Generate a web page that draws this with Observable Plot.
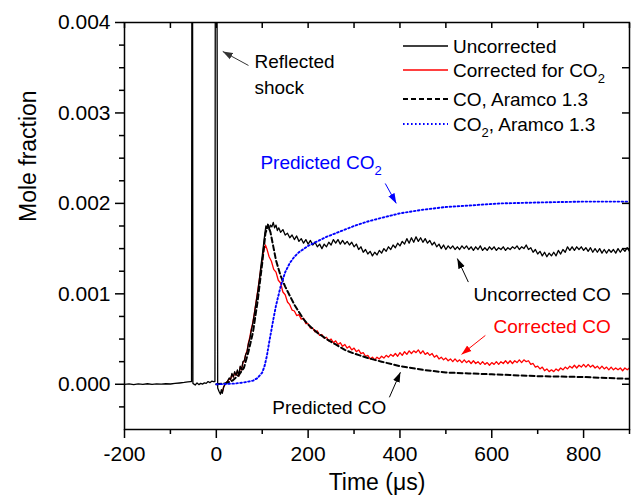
<!DOCTYPE html>
<html><head><meta charset="utf-8">
<script src="https://cdn.jsdelivr.net/npm/d3@7"></script>
<script src="https://cdn.jsdelivr.net/npm/@observablehq/plot@0.6"></script>
<style>
body{margin:0;background:#fff;}
#wrap{position:relative;width:634px;height:500px;}
</style></head><body><div id="wrap"></div>
<script>
// ---------- DATA (mole fraction values given in units of 1e-3) ----------
// Uncorrected CO signal (black), early part incl. two reflected-shock spikes
const uncorrEarlyT = [-200,-190,-180,-170,-160,-150,-140,-130,-120,-110,-100,-90,-80,-70,-62,-56,-54,-53,-52,-51,-46,-42,-38,-34,-30,-26,-22,-18,-14,-10,-6,-4,-3,-2,1,3,6,9,11,13,16,20,24,28,31,34,37,40,43,46,49,52,55,58,61,64,67,70,73,76,79,82,85,88,91,94,97,100,103,106,108,110,112,115,118,121,124,127,130,133,136];
const uncorrEarlyV = [0.000,0.005,-0.003,0.004,0.000,0.006,-0.002,0.004,0.001,0.006,0.003,0.009,0.014,0.020,0.026,0.030,0.030,6,6,0.010,-0.008,0.015,-0.004,0.010,0.002,0.016,0.010,0.030,0.018,0.034,0.028,0.032,0.03,6,6,-0.04,-0.08,-0.11,-0.06,-0.10,-0.03,0.01,0.03,0.07,0.05,0.12,0.08,0.14,0.10,0.16,0.09,0.20,0.16,0.25,0.26,0.33,0.36,0.45,0.50,0.59,0.66,0.75,0.85,0.95,1.05,1.17,1.30,1.42,1.55,1.68,1.75,1.72,1.77,1.71,1.76,1.74,1.79,1.73,1.76,1.70,1.73];
// Uncorrected CO, 140..900 us every 5 us
const uncorrTailV = [1.68,1.71,1.65,1.67,1.62,1.65,1.60,1.64,1.58,1.61,1.56,1.60,1.55,1.59,1.54,1.57,1.52,1.55,1.50,1.55,1.52,1.57,1.54,1.60,1.56,1.60,1.55,1.59,1.55,1.58,1.54,1.57,1.52,1.55,1.49,1.52,1.46,1.49,1.44,1.47,1.42,1.46,1.43,1.48,1.45,1.50,1.47,1.52,1.49,1.54,1.51,1.56,1.53,1.58,1.55,1.61,1.56,1.62,1.57,1.63,1.58,1.62,1.57,1.61,1.56,1.59,1.54,1.57,1.52,1.55,1.50,1.54,1.49,1.53,1.50,1.53,1.49,1.52,1.49,1.53,1.50,1.53,1.49,1.52,1.48,1.52,1.49,1.53,1.48,1.51,1.48,1.52,1.49,1.52,1.48,1.51,1.49,1.52,1.48,1.51,1.49,1.52,1.50,1.53,1.49,1.52,1.50,1.54,1.49,1.51,1.46,1.49,1.44,1.47,1.42,1.46,1.41,1.45,1.42,1.46,1.42,1.48,1.44,1.49,1.46,1.52,1.48,1.52,1.48,1.52,1.49,1.52,1.48,1.51,1.47,1.51,1.46,1.50,1.46,1.50,1.45,1.49,1.45,1.49,1.46,1.49,1.45,1.50,1.46,1.50,1.47,1.51,1.47];
// Corrected for CO2 (red), early part
const corrEarlyT = [10,13,16,20,24,28,31,34,37,40,43,46,49,52,55,58,61,64,67,70,73,76,79,82,85,88,91,94,97,100,103,107];
const corrEarlyV = [-0.09,-0.09,-0.03,0.01,0.03,0.06,0.05,0.11,0.08,0.13,0.10,0.15,0.09,0.19,0.16,0.24,0.26,0.33,0.37,0.46,0.52,0.61,0.67,0.76,0.86,0.96,1.06,1.17,1.28,1.38,1.47,1.54];
// Corrected, 110..900 us every 5 us
const corrTailV = [1.50,1.41,1.36,1.27,1.24,1.15,1.12,1.02,0.99,0.91,0.88,0.82,0.81,0.76,0.77,0.72,0.73,0.67,0.67,0.62,0.62,0.58,0.59,0.54,0.55,0.51,0.52,0.48,0.50,0.46,0.48,0.44,0.46,0.42,0.44,0.40,0.42,0.38,0.40,0.36,0.38,0.34,0.35,0.31,0.32,0.28,0.30,0.27,0.30,0.28,0.31,0.29,0.32,0.30,0.33,0.31,0.34,0.31,0.35,0.32,0.36,0.33,0.37,0.34,0.37,0.35,0.38,0.34,0.37,0.33,0.35,0.32,0.34,0.30,0.32,0.28,0.30,0.27,0.29,0.26,0.28,0.25,0.28,0.25,0.27,0.24,0.27,0.24,0.26,0.23,0.26,0.23,0.25,0.22,0.25,0.22,0.24,0.21,0.24,0.22,0.25,0.22,0.25,0.23,0.26,0.23,0.26,0.23,0.26,0.24,0.27,0.24,0.27,0.25,0.26,0.22,0.23,0.19,0.20,0.17,0.19,0.15,0.17,0.14,0.16,0.14,0.17,0.15,0.18,0.16,0.19,0.17,0.20,0.18,0.21,0.18,0.21,0.19,0.22,0.19,0.22,0.19,0.21,0.18,0.20,0.17,0.20,0.17,0.19,0.16,0.19,0.16,0.18,0.16,0.18,0.15,0.18,0.16,0.18];
// CO, Aramco 1.3 (black dashed)
const coModelT = [0,20,35,50,60,70,80,90,100,107,113,118,125,130,140,150,160,170,180,190,200,220,240,260,280,300,330,360,400,450,500,550,600,700,800,900];
const coModelV = [0,0.01,0.04,0.11,0.18,0.36,0.58,0.92,1.34,1.67,1.76,1.68,1.50,1.37,1.20,1.08,0.98,0.88,0.80,0.72,0.66,0.57,0.50,0.44,0.38,0.34,0.29,0.25,0.20,0.16,0.13,0.12,0.11,0.09,0.08,0.06];
// CO2, Aramco 1.3 (blue dotted)
const co2ModelT = [0,20,40,60,80,90,100,105,110,115,120,125,130,140,150,160,170,180,200,220,240,260,280,300,330,360,400,450,500,560,620,700,800,900];
const co2ModelV = [0,0.003,0.008,0.02,0.04,0.07,0.13,0.20,0.31,0.46,0.60,0.74,0.87,1.08,1.24,1.34,1.41,1.46,1.53,1.58,1.63,1.67,1.71,1.75,1.80,1.84,1.89,1.93,1.96,1.98,2.00,2.01,2.02,2.02];

// axis ticks
const xTickLabels = [-200, 0, 200, 400, 600, 800];
const xMinorTicks = [-100, 100, 300, 500, 700, 900];
const xTopTicks = [-200,-100,0,100,200,300,400,500,600,700,800,900];
const yTickLabels = [0, 0.001, 0.002, 0.003, 0.004];
const yMinorTicks = [-0.00025,0.00025,0.0005,0.00075,0.00125,0.0015,0.00175,0.00225,0.0025,0.00275,0.00325,0.0035,0.00375];
const yRightTicks = [0,0.0005,0.001,0.0015,0.002,0.0025,0.003,0.0035];

// annotations (data coordinates)
const noteText = ["Reflected", "shock", "Predicted CO₂", "Uncorrected CO", "Corrected CO", "Predicted CO"];
const noteX = [83, 83, 96, 859, 859, 122];
const noteY = [0.00356, 0.00328, 0.00245, 0.00099, 0.00063, -0.000265];
const noteColor = ["#000", "#000", "#0000ff", "#000", "#ff0000", "#000"];
const noteRightAligned = [false, false, false, true, true, false];
const arrowX1 = [70, 368, 549, 586, 377];
const arrowY1 = [0.003525, 0.00222, 0.00113, 0.00054, -0.000144];
const arrowX2 = [14, 392, 525, 534, 401];
const arrowY2 = [0.00368, 0.00200, 0.00139, 0.00033, 0.000133];
const arrowColor = ["#333", "#0000ff", "#000", "#ff0000", "#000"];

// ---------- build tables ----------
const tailT1 = d3.range(140, 901, 5);
const tailT2 = d3.range(110, 901, 5);
const uncorr = uncorrEarlyT.map((t, i) => ({t, v: uncorrEarlyV[i] / 1000}))
  .concat(tailT1.map((t, i) => ({t, v: uncorrTailV[i] / 1000})));
const corr = corrEarlyT.map((t, i) => ({t, v: corrEarlyV[i] / 1000}))
  .concat(tailT2.map((t, i) => ({t, v: corrTailV[i] / 1000})));
const coModel = coModelT.map((t, i) => ({t, v: coModelV[i] / 1000}));
const co2Model = co2ModelT.map((t, i) => ({t, v: co2ModelV[i] / 1000}));
const notes = noteText.map((s, i) => ({s, x: noteX[i], y: noteY[i], c: noteColor[i], r: noteRightAligned[i]}));
const arrows = arrowX1.map((x1, i) => ({x1, y1: arrowY1[i], x2: arrowX2[i], y2: arrowY2[i], c: arrowColor[i]}));

function headMarker(color, context) {
  const doc = (context && context.document) || document;
  const ns = "http://www.w3.org/2000/svg";
  const m = doc.createElementNS(ns, "marker");
  m.setAttribute("viewBox", "-10 -4 10 8");
  m.setAttribute("markerWidth", 10);
  m.setAttribute("markerHeight", 8);
  m.setAttribute("markerUnits", "userSpaceOnUse");
  m.setAttribute("refX", 0);
  m.setAttribute("refY", 0);
  m.setAttribute("orient", "auto");
  const p = doc.createElementNS(ns, "path");
  p.setAttribute("d", "M-10,-3.5L0,0L-10,3.5Z");
  p.setAttribute("fill", color);
  p.setAttribute("stroke", "none");
  m.appendChild(p);
  return m;
}

const font = "Liberation Sans, Arial, Helvetica, sans-serif";
const blank = () => "";
const dotted = "1.6,2.4";

function build(marker) {
  return Plot.plot({
    width: 634, height: 500,
    marginLeft: 124, marginRight: 5, marginTop: 22, marginBottom: 71,
    style: {fontFamily: font, background: "#fff", color: "#000"},
    x: {domain: [-200, 900]},
    y: {domain: [-0.0005, 0.004]},
    marks: [
      Plot.line(corr, {x: "t", y: "v", stroke: "#ff0000", strokeWidth: 1.3, clip: true}),
      Plot.line(uncorr, {x: "t", y: "v", stroke: "#000", strokeWidth: 1.3, clip: true}),
      Plot.line(coModel, {x: "t", y: "v", stroke: "#000", strokeWidth: 2, strokeDasharray: "5,3", clip: true}),
      Plot.line(co2Model, {x: "t", y: "v", stroke: "#0000ff", strokeWidth: 1.9, strokeDasharray: dotted, clip: true}),
      Plot.frame({stroke: "#000", strokeWidth: 1.5}),
      Plot.axisY({ticks: yTickLabels, tickSize: 9, tickPadding: 5, tickFormat: d3.format(".3f"), fontSize: 21, label: null, strokeWidth: 1.5}),
      Plot.axisY({ticks: yMinorTicks, tickSize: 5, tickFormat: blank, label: null, strokeWidth: 1.5}),
      Plot.axisY({anchor: "right", ticks: yRightTicks, tickSize: -8, tickFormat: blank, label: null, strokeWidth: 1.5}),
      Plot.axisX({ticks: xTickLabels, tickSize: 9, tickPadding: 8, tickFormat: d => String(d), fontSize: 21, label: null, strokeWidth: 1.5}),
      Plot.axisX({ticks: xMinorTicks, tickSize: 5, tickFormat: blank, label: null, strokeWidth: 1.5}),
      Plot.axisX({anchor: "top", ticks: xTopTicks, tickSize: -5, tickFormat: blank, label: null, strokeWidth: 1.5}),
      Plot.text(["Time (μs)"], {text: d => d, frameAnchor: "bottom", dy: 53, fontSize: 23, lineAnchor: "middle"}),
      Plot.text(["Mole fraction"], {text: d => d, frameAnchor: "left", dx: -96, dy: -4, rotate: -90, fontSize: 23, lineAnchor: "middle"}),
      Plot.text(notes.filter(d => !d.r), {x: "x", y: "y", text: "s", fill: d => d.c, textAnchor: "start", fontSize: 19, lineAnchor: "middle"}),
      Plot.text(notes.filter(d => d.r), {x: "x", y: "y", text: "s", fill: d => d.c, textAnchor: "end", fontSize: 19, lineAnchor: "middle"}),
      Plot.link(arrows, {x1: "x1", y1: "y1", x2: "x2", y2: "y2", stroke: d => d.c, strokeWidth: 1, markerEnd: marker})
    ]
  });
}

let chart;
try { chart = build(headMarker); } catch (e) { chart = build("arrow"); }

// subscripts for CO2
function subscript(textEl) {
  const s = textEl.textContent;
  if (!s.includes("₂")) return;
  const [a, b] = s.split("₂");
  textEl.textContent = "";
  textEl.append(a);
  const ns = "http://www.w3.org/2000/svg";
  const ts = document.createElementNS(ns, "tspan");
  ts.setAttribute("dy", "6");
  ts.setAttribute("font-size", "13");
  ts.textContent = "2";
  textEl.append(ts);
  if (b) {
    const tb = document.createElementNS(ns, "tspan");
    tb.setAttribute("dy", "-6");
    tb.textContent = b;
    textEl.append(tb);
  }
}
chart.querySelectorAll("text").forEach(subscript);

// legend (inside plot, top-right)
const legendItems = [
  {label: "Uncorrected", stroke: "#000", dash: null, w: 1.3},
  {label: "Corrected for CO₂", stroke: "#ff0000", dash: null, w: 1.3},
  {label: "CO, Aramco 1.3", stroke: "#000", dash: "5,3", w: 2},
  {label: "CO₂, Aramco 1.3", stroke: "#0000ff", dash: dotted, w: 1.9}
];
const rowY = [46, 70, 99, 124];
const lg = d3.select(chart).append("g").attr("font-family", font).attr("font-size", 19).attr("text-anchor", "start");
legendItems.forEach((it, i) => {
  lg.append("line").attr("x1", 403).attr("x2", 448).attr("y1", rowY[i]).attr("y2", rowY[i])
    .attr("stroke", it.stroke).attr("stroke-width", it.w).attr("stroke-dasharray", it.dash);
  const t = lg.append("text").attr("x", 453).attr("y", rowY[i]).attr("dy", "0.35em").attr("text-anchor", "start").text(it.label);
  subscript(t.node());
});

document.getElementById("wrap").appendChild(chart);
</script>
</body></html>
